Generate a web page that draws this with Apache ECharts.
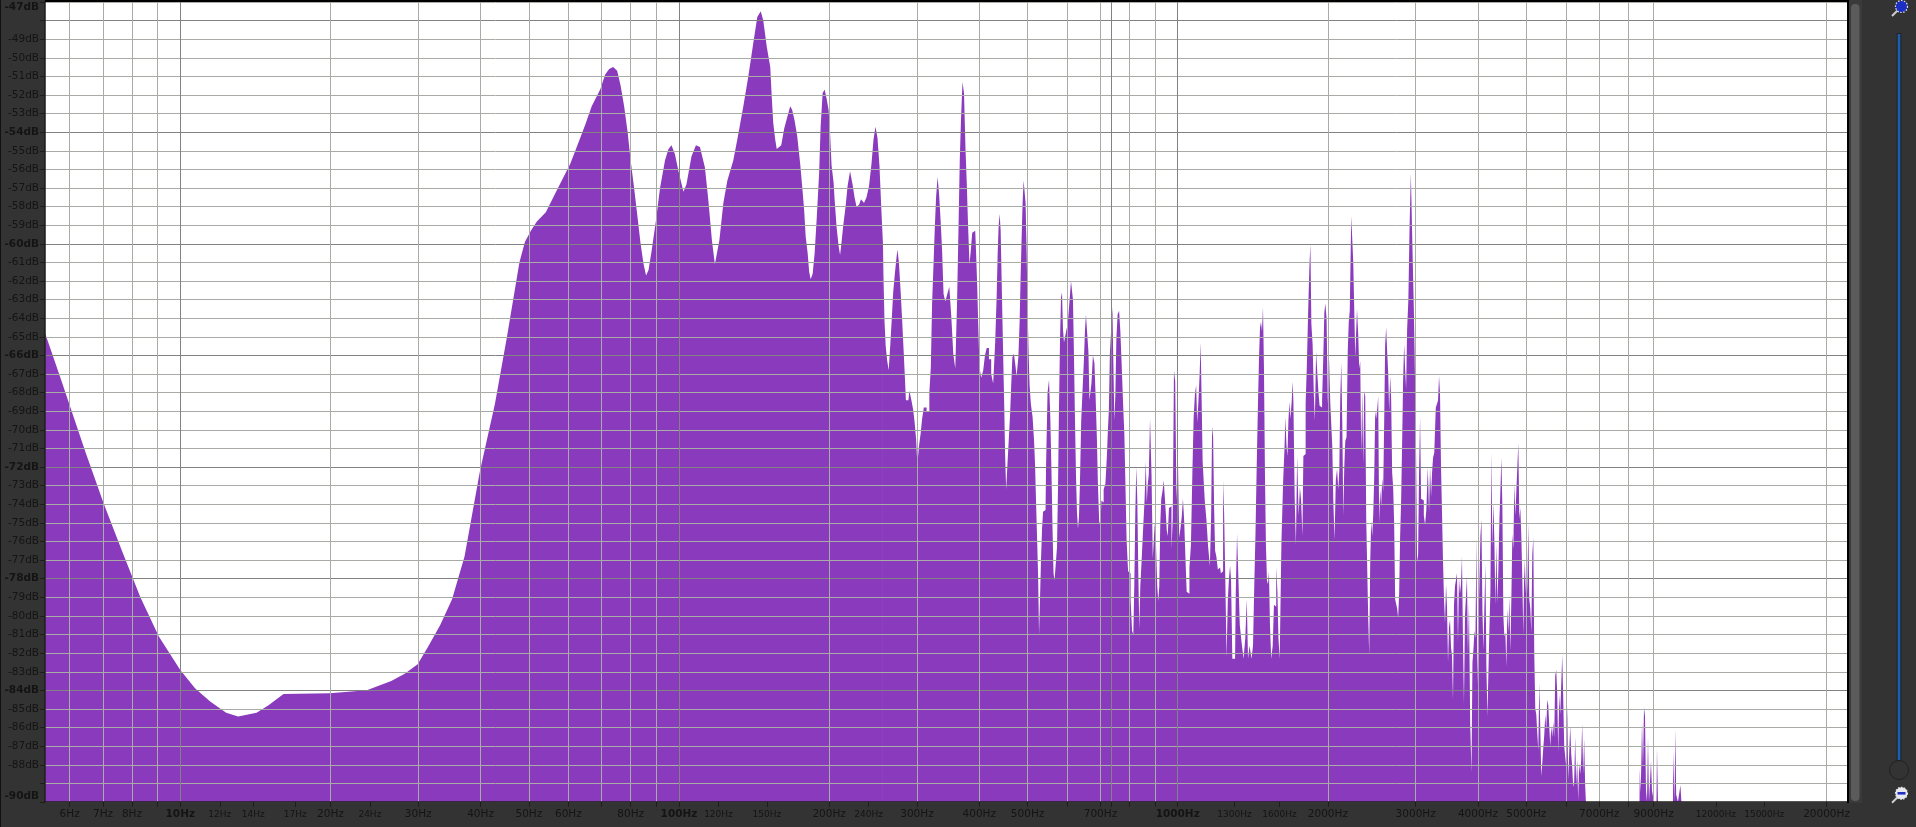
<!DOCTYPE html>
<html><head><meta charset="utf-8">
<style>html,body{margin:0;padding:0;background:#333;overflow:hidden}#c{width:1916px;height:827px}</style>
<script src="https://cdn.jsdelivr.net/npm/echarts@6/dist/echarts.min.js"></script>
</head><body><div id="c"></div>
<script>
// Frequencies in Hz
const labelledHz = [6,7,8,10,12,14,17,20,24,30,40,50,60,80,100,120,150,200,240,300,400,500,700,1000,1300,1600,2000,3000,4000,5000,7000,9000,12000,15000,20000];
const smallLabelHz = [12,14,17,24,120,150,240,1300,1600,12000,15000];
const boldLabelHz = [10,100,1000];
const gridHz = [6,7,8,9,10,20,30,40,50,60,70,80,90,100,200,300,400,500,600,700,735,800,900,1000,2000,3000,4000,5000,6000,7000,8000,9000,20000];
const darkGridHz = [10,100,735,1000];
const hiddenDbLabels = [-48,-89];

// Spectrum: [log10(Hz), dB]
const spectrumLow = [
[0.729,-64.8],[0.761,-67.3],[0.810,-71.2],[0.847,-74.0],[0.883,-76.5],[0.920,-79.0],[0.957,-81.1],[1.000,-82.9],[1.030,-83.9],[1.060,-84.6],[1.092,-85.2],[1.116,-85.4],[1.153,-85.2],[1.177,-84.8],[1.207,-84.2],
[1.300,-84.15],[1.374,-84.0],[1.423,-83.5],[1.450,-83.1],[1.476,-82.6],[1.496,-81.7],[1.521,-80.5],[1.545,-79.1],[1.570,-76.8],[1.601,-72.2],[1.631,-68.6],[1.655,-65.0],[1.680,-61.0],[1.691,-59.9],
[1.703,-59.3],[1.715,-58.8],[1.733,-58.3],[1.748,-57.5],[1.765,-56.6],[1.782,-55.7],[1.795,-54.8],[1.812,-53.6],[1.825,-52.6],[1.842,-51.7],[1.852,-50.9],[1.860,-50.6],
[1.868,-50.5],[1.876,-50.7],[1.883,-51.5],[1.890,-52.6],[1.897,-54.0],[1.903,-55.5],[1.910,-57.0],[1.917,-58.6],[1.923,-60.0],[1.929,-61.1],[1.934,-61.7],[1.939,-61.4],
[1.945,-60.4],[1.954,-58.7],[1.962,-57.0],[1.972,-55.5],[1.979,-54.9],[1.985,-54.7],[1.992,-55.2],[1.999,-56.1],[2.009,-57.2],[2.015,-56.8],[2.025,-55.3],[2.034,-54.7],
[2.042,-54.8],[2.052,-55.9],[2.059,-57.7],[2.066,-59.8],[2.072,-61.1],[2.081,-59.8],[2.089,-57.8],[2.097,-56.6],[2.109,-55.5],[2.119,-54.1],[2.129,-52.6],[2.139,-51.0],
[2.149,-49.2],[2.157,-47.8],[2.164,-47.5],[2.169,-48.0],[2.176,-49.4],[2.183,-50.5],[2.186,-52.1],[2.189,-53.5],[2.193,-54.4],[2.196,-54.9],[2.200,-55.0],[2.205,-54.7],
[2.211,-53.8],[2.217,-53.2],[2.223,-52.6],[2.227,-52.8],[2.232,-53.4],[2.237,-54.2],[2.243,-55.7],[2.247,-56.9],[2.251,-58.2],[2.254,-59.6],[2.258,-60.5],[2.261,-61.5],
[2.264,-61.9],[2.268,-61.6],[2.272,-60.5],[2.276,-58.7],[2.281,-56.2],[2.284,-53.7],[2.288,-51.9],[2.292,-51.7],[2.296,-52.2],[2.300,-52.8],[2.303,-54.1],[2.306,-55.8],
[2.310,-56.7],[2.312,-57.6],[2.316,-59.1],[2.320,-60.1],[2.323,-60.6],[2.326,-59.9],[2.329,-59.1],[2.334,-58.0],[2.338,-56.9],[2.343,-56.1],[2.348,-56.8],[2.352,-57.5],
[2.356,-58.0],[2.361,-57.9],[2.365,-57.6],[2.371,-57.8],[2.376,-57.5],[2.381,-56.9],[2.386,-55.7],[2.390,-54.4],[2.394,-53.7],[2.398,-54.3],[2.402,-55.8],[2.406,-58.3],[2.409,-60.0]
];
const spectrumMid = [
[2.409,-60.0],[2.411,-61.7],[2.413,-64.1],[2.416,-65.5],[2.419,-66.3],[2.422,-66.8],[2.425,-65.5],[2.428,-64.1],[2.431,-62.6],[2.434,-61.7],[2.437,-60.9],[2.439,-60.3],
[2.443,-61.0],[2.446,-62.6],[2.449,-64.1],[2.451,-65.5],[2.454,-66.9],[2.456,-68.4],[2.460,-68.4],[2.464,-67.9],[2.468,-68.4],[2.471,-68.9],[2.474,-69.6],[2.477,-70.5],
[2.479,-71.9],[2.483,-70.9],[2.486,-70.2],[2.489,-69.4],[2.493,-68.8],[2.500,-69.0],[2.504,-68.0],[2.506,-66.6],[2.509,-63.2],[2.512,-61.0],[2.514,-59.1],[2.517,-57.5],
[2.520,-56.4],[2.523,-57.3],[2.526,-58.7],[2.529,-60.3],[2.532,-62.7],[2.536,-63.1],[2.540,-62.7],[2.544,-62.3],[2.548,-63.9],[2.552,-65.9],[2.556,-66.7],[2.559,-63.2],
[2.562,-59.1],[2.564,-55.5],[2.567,-53.3],[2.570,-51.3],[2.573,-51.9],[2.576,-54.9],[2.578,-56.7],[2.581,-58.9],[2.584,-61.1],[2.586,-60.4],[2.590,-59.4],[2.594,-59.3],
[2.597,-60.3],[2.599,-62.3],[2.601,-64.3],[2.604,-66.6],[2.608,-67.2],[2.612,-66.8],[2.615,-66.0],[2.619,-65.6],[2.624,-66.2],[2.628,-67.0],[2.632,-67.5],[2.636,-65.3],
[2.638,-62.8],[2.640,-60.5],[2.642,-59.0],[2.644,-58.4],[2.646,-59.3],[2.648,-62.0],[2.651,-65.3],[2.653,-68.5],[2.655,-71.4],[2.657,-73.2],[2.660,-71.9],[2.663,-70.4],
[2.665,-69.1],[2.667,-67.7],[2.670,-66.1],[2.673,-65.9],[2.675,-66.4],[2.679,-67.1],[2.682,-66.1],[2.684,-64.2],[2.686,-61.8],[2.688,-59.7],[2.690,-57.8],[2.692,-56.6],
[2.694,-56.5],[2.696,-57.8],[2.698,-60.4],[2.700,-63.4],[2.702,-65.8],[2.704,-67.6],[2.707,-68.6],[2.711,-69.3],[2.713,-70.6],[2.715,-71.9],[2.717,-73.9],[2.719,-73.9],
[2.721,-77.7],[2.723,-81.0],[2.725,-81.0],[2.727,-76.9],[2.729,-75.3],[2.731,-74.4],[2.735,-74.3],[2.737,-72.0],[2.741,-68.0],[2.743,-67.3],[2.746,-69.3],[2.748,-72.4],
[2.750,-75.3],[2.752,-77.7],[2.754,-78.1],[2.757,-77.2],[2.759,-76.3],[2.761,-73.1],[2.763,-68.7],[2.765,-65.2],[2.767,-62.9],[2.769,-62.6],[2.771,-64.6],[2.773,-65.3],
[2.776,-65.4],[2.778,-64.6],[2.781,-64.3],[2.785,-63.1],[2.787,-62.0],[2.789,-61.9],[2.791,-63.0],[2.793,-66.0],[2.795,-69.4],[2.797,-72.4],[2.799,-74.4],[2.801,-75.3],
[2.803,-74.7],[2.805,-72.8],[2.808,-69.5],[2.811,-67.7],[2.813,-66.2],[2.815,-64.7],[2.817,-63.8],[2.820,-63.9],[2.822,-65.8],[2.824,-68.4],[2.826,-68.5],[2.828,-67.5],
[2.832,-66.0],[2.834,-66.4],[2.837,-68.3],[2.839,-70.5],[2.841,-72.9],[2.844,-74.9],[2.846,-75.2],[2.848,-73.8],[2.850,-73.9],[2.853,-73.2],[2.857,-72.9],[2.859,-71.4],
[2.861,-70.0],[2.863,-68.9],[2.865,-65.9],[2.868,-65.8],[2.870,-63.4],[2.872,-66.4],[2.874,-69.5],[2.876,-68.1],[2.878,-65.1],[2.881,-63.8],[2.884,-63.6],[2.886,-64.7],
[2.889,-66.4],[2.892,-68.6],[2.894,-70.2],[2.896,-72.7],[2.899,-75.9],[2.902,-77.6],[2.904,-77.7],[2.907,-79.1],[2.910,-80.8],[2.912,-81.0],[2.914,-78.3],[2.916,-74.4],
[2.918,-72.0],[2.920,-73.8],[2.922,-77.7],[2.924,-80.7],[2.926,-78.4],[2.929,-77.1],[2.932,-75.4],[2.935,-73.8],[2.937,-71.7],[2.939,-73.9],[2.941,-72.9],[2.943,-72.4],
[2.946,-69.4],[2.949,-72.4],[2.951,-76.9],[2.953,-76.9],[2.955,-75.0],[2.958,-76.2],[2.960,-78.4],[2.962,-79.2],[2.964,-78.4],[2.966,-75.1],[2.968,-73.7],[2.971,-73.3],
[2.973,-72.7],[2.975,-72.6],[2.977,-74.4],[2.979,-75.4],[2.981,-75.7],[2.984,-74.2],[2.986,-74.1],[2.989,-76.4],[2.991,-74.8],[2.994,-66.8],[2.996,-67.4],[2.999,-73.8],
[3.002,-71.6],[3.004,-75.8],[3.007,-75.3],[3.009,-74.7],[3.012,-73.7],[3.014,-74.9],[3.017,-76.9],[3.019,-78.7],[3.022,-78.8],[3.025,-77.4],[3.028,-76.2],[3.031,-72.2],
[3.033,-69.3],[3.036,-68.1],[3.038,-67.6],[3.040,-69.6],[3.043,-68.5],[3.045,-67.0],[3.047,-65.3],[3.049,-68.4],[3.051,-71.7],[3.053,-72.7],[3.056,-73.9],[3.059,-74.8],
[3.063,-76.3],[3.066,-77.3],[3.068,-74.7],[3.070,-69.8],[3.072,-70.4],[3.074,-74.2],[3.076,-76.5],[3.079,-76.8],[3.082,-77.5],[3.085,-77.4],[3.088,-77.7],[3.090,-77.6],
[3.092,-72.7],[3.094,-74.4],[3.097,-78.1],[3.099,-82.2],[3.102,-79.1],[3.104,-77.9],[3.106,-77.3],[3.108,-78.1],[3.111,-82.3],[3.115,-82.3],[3.118,-78.6],[3.120,-75.6],
[3.123,-77.8],[3.126,-80.5],[3.130,-81.4],[3.134,-82.3],[3.137,-81.2],[3.140,-79.1],[3.142,-82.3],[3.146,-81.6],[3.150,-82.3],[3.152,-81.6],[3.155,-78.4],[3.157,-75.5],
[3.160,-71.8],[3.162,-68.5],[3.164,-66.2],[3.166,-64.5],[3.168,-64.2],[3.170,-64.7],[3.172,-63.4],[3.174,-66.8],[3.176,-72.5],[3.178,-76.3],[3.180,-78.1],[3.182,-78.3],
[3.184,-77.6],[3.186,-80.5],[3.189,-82.3],[3.192,-81.6],[3.194,-79.4],[3.196,-79.5],[3.199,-77.4],[3.201,-78.7],[3.203,-81.2],[3.206,-82.3],[3.210,-76.0],[3.213,-72.7],
[3.215,-71.1],[3.217,-69.3],[3.219,-70.8],[3.221,-71.4],[3.223,-69.5],[3.225,-68.5],[3.227,-69.4],[3.230,-68.5],[3.231,-67.4],[3.233,-68.5],[3.236,-73.6],[3.238,-76.2],
[3.241,-71.4],[3.244,-74.6],[3.246,-73.1],[3.249,-73.8],[3.251,-75.7],[3.253,-71.4],[3.255,-71.3],[3.258,-68.6],[3.260,-66.5],[3.263,-63.7],[3.265,-61.3],[3.267,-60.0],
[3.269,-64.3],[3.272,-65.4],[3.274,-68.1],[3.276,-69.5],[3.279,-65.8],[3.281,-67.0],[3.283,-67.9],[3.286,-68.7],[3.288,-68.8],[3.291,-68.4],[3.293,-66.0],[3.295,-63.7],
[3.297,-63.2],[3.300,-64.0],[3.302,-68.6],[3.305,-66.2],[3.307,-68.6],[3.309,-68.7],[3.311,-70.9],[3.313,-73.8],[3.316,-75.9],[3.318,-72.7],[3.321,-72.1],[3.323,-73.2],
[3.325,-72.2],[3.327,-68.2],[3.329,-66.4],[3.331,-69.6],[3.333,-74.6],[3.335,-72.0],[3.337,-70.6],[3.340,-70.4],[3.342,-65.7],[3.344,-64.2],[3.346,-63.6],[3.350,-58.5],
[3.354,-61.0],[3.358,-66.1],[3.361,-63.5],[3.363,-64.9],[3.365,-66.7],[3.367,-66.3],[3.369,-71.3],[3.371,-67.9],[3.373,-71.8],[3.375,-67.9],[3.377,-68.2],[3.379,-74.8],
[3.381,-74.8],[3.383,-80.1],[3.385,-82.1],[3.387,-77.1],[3.389,-74.9],[3.391,-75.7],[3.393,-74.6],[3.395,-72.6],[3.397,-69.0],[3.399,-69.4],[3.401,-68.9],[3.403,-68.2],
[3.405,-75.0],[3.407,-73.2],[3.409,-74.1],[3.411,-72.6],[3.413,-73.3],[3.415,-69.6],[3.417,-65.4],[3.419,-64.5],[3.421,-65.8],[3.423,-66.9],[3.425,-69.0],[3.427,-67.1],
[3.429,-68.3],[3.431,-72.3],[3.433,-73.1],[3.435,-75.0],[3.437,-79.1],[3.439,-79.0],[3.441,-79.6],[3.443,-80.1],[3.445,-78.8],[3.447,-75.7],[3.449,-73.8],[3.451,-70.7],
[3.453,-67.3],[3.455,-65.4],[3.457,-66.7],[3.459,-67.8],[3.461,-64.6],[3.464,-63.0],[3.466,-59.0],[3.469,-56.2],[3.472,-60.0],[3.475,-63.5],[3.477,-67.5],[3.479,-71.4],
[3.481,-77.1],[3.483,-76.7],[3.485,-72.2],[3.487,-69.3],[3.489,-73.7],[3.492,-73.8],[3.495,-74.6],[3.497,-75.1],[3.500,-74.3],[3.503,-72.0],[3.505,-74.4],[3.507,-72.0],
[3.509,-73.6],[3.511,-72.3],[3.513,-71.5],[3.516,-71.2],[3.519,-68.8],[3.521,-68.6],[3.523,-68.4],[3.525,-67.1],[3.527,-68.1],[3.529,-72.0],[3.531,-74.5],[3.533,-77.1],
[3.535,-79.1],[3.537,-80.4],[3.539,-78.3],[3.541,-79.5],[3.543,-82.5],[3.545,-80.6],[3.547,-80.2],[3.549,-81.7],[3.551,-82.1],[3.553,-84.5],[3.555,-79.4],[3.557,-78.4],
[3.559,-78.3],[3.561,-77.7],[3.563,-81.4],[3.565,-77.9],[3.567,-78.8],[3.569,-78.3],[3.571,-76.8],[3.573,-81.3],[3.575,-84.7],[3.577,-80.0],[3.579,-79.9],[3.581,-77.9],
[3.583,-82.1],[3.585,-79.3],[3.588,-85.8],[3.590,-88.4],[3.592,-82.5],[3.594,-81.8],[3.596,-80.8],[3.598,-81.2],[3.600,-75.8],[3.602,-83.7],[3.604,-80.7],[3.606,-80.7],
[3.608,-75.7],[3.610,-74.8],[3.612,-79.7],[3.614,-81.8],[3.616,-81.8],[3.618,-77.2],[3.620,-82.8],[3.622,-85.4],[3.624,-85.3],[3.626,-80.7],[3.628,-78.7],[3.630,-71.2],
[3.632,-76.3],[3.634,-73.9],[3.636,-76.0],[3.638,-79.4],[3.640,-76.1],[3.642,-79.3],[3.644,-77.5],[3.646,-74.9],[3.648,-73.3],[3.650,-71.5],[3.652,-74.1],[3.654,-80.0],
[3.656,-81.1],[3.658,-80.9],[3.660,-82.7],[3.662,-79.6],[3.664,-80.9],[3.666,-79.0],[3.668,-81.9],[3.670,-79.1],[3.672,-75.6],[3.674,-76.4],[3.676,-72.9],[3.678,-74.6],
[3.680,-73.3],[3.682,-73.3],[3.684,-70.7],[3.686,-74.8],[3.688,-74.2],[3.690,-75.7],[3.692,-78.0],[3.694,-81.0],[3.696,-76.9],[3.698,-78.8],[3.700,-76.5],[3.702,-78.8],
[3.704,-75.0],[3.706,-79.1],[3.708,-79.6],[3.710,-80.9],[3.712,-76.7],[3.714,-75.8],[3.716,-82.1],[3.718,-85.0],[3.720,-85.3],[3.722,-86.3],[3.724,-87.2],[3.726,-83.6],
[3.728,-86.0],[3.730,-88.6],[3.732,-87.9],[3.734,-87.1],[3.736,-86.4],[3.738,-85.3],[3.740,-86.1],[3.742,-84.5],[3.744,-84.8],[3.746,-85.9],[3.748,-87.0],[3.750,-85.9],
[3.752,-86.5],[3.754,-85.7],[3.756,-86.5],[3.758,-83.2],[3.760,-82.9],[3.762,-84.2],[3.764,-87.3],[3.766,-84.2],[3.768,-85.3],[3.770,-85.3],[3.772,-82.1],[3.774,-84.4],
[3.776,-87.0],[3.778,-87.1],[3.780,-88.1],[3.782,-84.8],[3.784,-88.8],[3.786,-88.7],[3.788,-85.9],[3.790,-87.4],[3.792,-88.1],[3.794,-89.2],[3.796,-88.9],[3.798,-86.5],
[3.800,-89.1],[3.802,-87.7],[3.804,-89.9],[3.806,-87.9],[3.808,-88.5],[3.810,-87.8],[3.812,-85.8],[3.814,-88.5],[3.816,-86.6],[3.818,-89.1],[3.819,-90],
[3.926,-90],[3.927,-88.2],[3.929,-89.5],[3.930,-88.1],[3.932,-85.7],[3.934,-88.1],[3.936,-84.9],[3.938,-85.4],[3.940,-89.4],[3.942,-90],[3.944,-86.5],[3.946,-90],[3.948,-90],
[3.950,-87.8],[3.952,-89.4],[3.954,-89.4],[3.956,-90],[3.960,-90],[3.962,-87.1],[3.964,-90],[3.993,-90],[3.995,-87.3],[3.997,-90],[3.999,-86.1],[4.000,-89.6],[4.002,-89.6],
[4.004,-90],[4.007,-90],[4.009,-89.1],[4.011,-90],[4.342,-90]
];

const PURPLE = '#8a3abc', GRID = '#a9aca6', GRID_DARK = '#828282', TEXT = '#141414';
const tickHz = Array.from(new Set(labelledHz.concat(gridHz))).sort((a,b)=>a-b);
const toHz = pts => pts.map(p => [Math.pow(10,p[0]), p[1]]);
const dbColors = [GRID_DARK,GRID,GRID,GRID,GRID,GRID];
const xColors = tickHz.map(f => darkGridHz.includes(f) ? GRID_DARK : gridHz.includes(f) ? GRID : 'rgba(0,0,0,0)');

const area = (name, data, step) => ({
  name, type:'line', data:toHz(data), step, showSymbol:false, silent:true, z:1, clip:true,
  lineStyle:{width:0}, itemStyle:{color:PURPLE}, areaStyle:{color:PURPLE, opacity:1, origin:'start'}, animation:false
});

function magnifier(cx, cy, hx, hy, inner){
  return {type:'group', children:[
    {type:'line', shape:{x1:cx-3,y1:cy+3,x2:hx,y2:hy}, style:{stroke:'#cfcfcf',lineWidth:2}},
    {type:'circle', shape:{cx,cy,r:6}, style:{fill:inner,stroke:'#e6e6e6',lineWidth:1.2,lineDash:[1.5,1.5]}}
  ]};
}

const chart = echarts.init(document.getElementById('c'), null, {renderer:'canvas'});
chart.setOption({
  animation:false, backgroundColor:'#333333',
  grid:{left:45, right:69, top:2, bottom:25, backgroundColor:'#ffffff', show:true, borderWidth:0},
  xAxis:{
    type:'log', logBase:10, min:5.355, max:21980, z:3,
    axisLine:{show:true,onZero:false,lineStyle:{color:'#1c1c1c',width:1.5}},
    axisTick:{show:true,length:5,lineStyle:{color:'#1c1c1c'},customValues:tickHz},
    splitLine:{show:true,lineStyle:{color:xColors,width:1}},
    minorTick:{show:false}, minorSplitLine:{show:false},
    axisLabel:{
      customValues:labelledHz, margin:6, color:TEXT, hideOverlap:false,
      formatter:v=>{
        const f=Math.round(v);
        const k=boldLabelHz.includes(f)?'b':smallLabelHz.includes(f)?'s':'r';
        return '{'+k+'|'+f+'Hz}';
      },
      rich:{
        r:{fontFamily:'DejaVu Sans',fontSize:10.5,lineHeight:13,color:TEXT},
        b:{fontFamily:'DejaVu Sans',fontSize:10.5,fontWeight:'bold',lineHeight:13,color:TEXT},
        s:{fontFamily:'DejaVu Sans',fontSize:9,lineHeight:13,color:TEXT}
      }
    }
  },
  yAxis:{
    type:'value', min:-90, max:-47, interval:1, z:3,
    axisLine:{show:true,onZero:false,lineStyle:{color:'#1c1c1c',width:1.5}},
    axisTick:{show:true,length:5,lineStyle:{color:'#1c1c1c'}},
    splitLine:{show:true,lineStyle:{color:dbColors,width:1}},
    axisLabel:{
      margin:6, color:TEXT, showMinLabel:true, showMaxLabel:true,
      verticalAlignMinLabel:'bottom', verticalAlignMaxLabel:'top',
      formatter:v=>{
        const d=Math.round(v);
        if(hiddenDbLabels.includes(d)) return '';
        const bold=(d%6===0)||d===-47;
        return '{'+(bold?'b':'r')+'|'+d+'dB}';
      },
      rich:{
        r:{fontFamily:'DejaVu Sans',fontSize:10.5,color:TEXT},
        b:{fontFamily:'DejaVu Sans',fontSize:10.5,fontWeight:'bold',color:TEXT}
      }
    }
  },
  series:[area('low',spectrumLow,false), area('mid',spectrumMid,'middle')],
  graphic:[
    {type:'rect',z:50,shape:{x:45,y:0,width:1804,height:2},style:{fill:'#000'}},
    {type:'rect',z:50,shape:{x:1847,y:0,width:2,height:803},style:{fill:'#000'}},
    {type:'rect',z:50,shape:{x:0,y:0,width:1,height:827},style:{fill:'#111'}},
    {type:'rect',z:50,shape:{x:1849,y:0,width:13,height:803},style:{fill:'#3a3a3a'}},
    {type:'rect',z:51,shape:{x:1851,y:4,width:8.5,height:797,r:4},style:{fill:'#5b5b5b'}},
    {type:'rect',z:50,shape:{x:1896.7,y:33,width:4.6,height:728},style:{fill:'#222'}},
    {type:'rect',z:51,shape:{x:1897.7,y:34,width:2.6,height:726},style:{fill:'#1a5fb4'}},
    {type:'circle',z:52,shape:{cx:1899,cy:770,r:9.5},style:{fill:'#333',stroke:'#222',lineWidth:1}},
    Object.assign(magnifier(1901.5,6.5,1892,16,'#1c2fc4'),{z:52}),
    Object.assign(magnifier(1901.5,793.3,1892,802.7,'#e8e8f0'),{z:52}),
    {type:'rect',z:53,shape:{x:1897.5,y:792,width:8,height:2.6},style:{fill:'#2030c0'}}
  ]
});
</script></body></html>
